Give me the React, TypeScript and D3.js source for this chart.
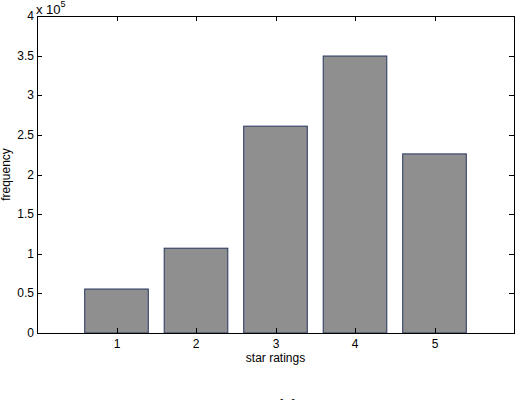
import React, { useRef, useEffect } from "react";
import * as d3 from "d3";

const categories = [1, 2, 3, 4, 5];
const frequencies = [55500, 107000, 261000, 349500, 226000];
const yTicks = [0, 0.5, 1, 1.5, 2, 2.5, 3, 3.5, 4];
const xLabel = "star ratings";
const yLabel = "frequency";

const W = 516, H = 400;
const M = { left: 37, right: 2, top: 16, bottom: 67 };

export default function App() {
  const ref = useRef<SVGSVGElement>(null);
  useEffect(() => {
    const svg = d3.select(ref.current);
    svg.selectAll("*").remove();
    const x = d3.scaleLinear().domain([0, 6]).range([M.left, W - M.right]);
    const y = d3.scaleLinear().domain([0, 400000]).range([H - M.bottom, M.top]);
    const font = "'Liberation Sans', Arial, Helvetica, sans-serif";
    const fs = 12;
    const bw = (x(1) - x(0)) * 0.8;

    svg.append("rect").attr("x", 0).attr("y", 0).attr("width", W).attr("height", H).attr("fill", "#fff");

    svg.selectAll("rect.bar").data(categories).enter().append("rect")
      .attr("class", "bar")
      .attr("x", (d) => x(d) - bw / 2)
      .attr("y", (d, i) => y(frequencies[i]))
      .attr("width", bw)
      .attr("height", (d, i) => y(0) - y(frequencies[i]))
      .attr("fill", "#8f8f8f")
      .attr("stroke", "#25355f")
      .attr("stroke-width", 1);

    const x0 = x(0), x1 = x(6), y0 = y(0), y1 = y(400000);
    const g = svg.append("g").attr("stroke", "#000").attr("stroke-width", 1).attr("shape-rendering", "crispEdges");
    g.append("rect").attr("x", x0).attr("y", y1).attr("width", x1 - x0).attr("height", y0 - y1).attr("fill", "none");

    const tl = 5;
    yTicks.forEach((t) => {
      const yy = Math.round(y(t * 1e5));
      g.append("line").attr("x1", x0).attr("x2", x0 + tl).attr("y1", yy).attr("y2", yy);
      g.append("line").attr("x1", x1).attr("x2", x1 - tl).attr("y1", yy).attr("y2", yy);
      svg.append("text").attr("x", x0 - 3).attr("y", yy + 4).attr("text-anchor", "end")
        .attr("font-family", font).attr("font-size", fs).text(String(t));
    });
    categories.forEach((c) => {
      const xx = Math.round(x(c));
      g.append("line").attr("x1", xx).attr("x2", xx).attr("y1", y0).attr("y2", y0 - tl);
      g.append("line").attr("x1", xx).attr("x2", xx).attr("y1", y1).attr("y2", y1 + tl);
      svg.append("text").attr("x", xx).attr("y", y0 + 15).attr("text-anchor", "middle")
        .attr("font-family", font).attr("font-size", fs).text(String(c));
    });

    const sup = svg.append("text").attr("x", x0 - 1).attr("y", 14).attr("font-family", font).attr("font-size", 13);
    sup.append("tspan").text("x 10");
    sup.append("tspan").attr("font-size", 9).attr("dy", -7).text("5");

    svg.append("text").attr("x", (x0 + x1) / 2).attr("y", y0 + 29).attr("text-anchor", "middle")
      .attr("font-family", font).attr("font-size", fs).text(xLabel);
    svg.append("text").attr("transform", `translate(10, ${(y0 + y1) / 2}) rotate(-90)`)
      .attr("text-anchor", "middle").attr("font-family", font).attr("font-size", fs).text(yLabel);

    svg.append("text").attr("x", 288).attr("y", 408).attr("text-anchor", "middle")
      .attr("font-family", font).attr("font-size", fs).attr("letter-spacing", 1).text("[a]");
  }, []);
  return (
    <svg ref={ref} width={W} height={H} style={{ position: "absolute", left: 0, top: 0, display: "block" }} />
  );
}
